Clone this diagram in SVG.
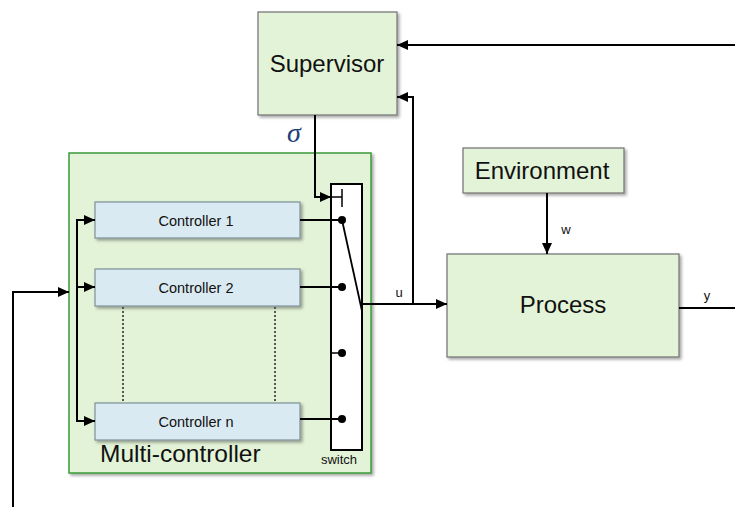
<svg xmlns="http://www.w3.org/2000/svg" width="735" height="507" viewBox="0 0 735 507">
<defs>
<filter id="sh" x="-10%" y="-10%" width="130%" height="130%">
<feDropShadow dx="2" dy="2" stdDeviation="1.5" flood-color="#000" flood-opacity="0.35"/>
</filter>
<marker id="ah" markerWidth="12" markerHeight="10" refX="11" refY="5" orient="auto" markerUnits="userSpaceOnUse">
<path d="M0,0 L11,5 L0,10 z" fill="#000"/>
</marker>
</defs>
<style>
.blk{fill:#e3f3d7;stroke:#707070;stroke-width:1.2}
.ctl{fill:#daeaf3;stroke:#7d8f98;stroke-width:1.2}
.mc{fill:#e3f3d7;stroke:#3a9a3a;stroke-width:1.5}
.ln{fill:none;stroke:#000;stroke-width:2}
.dot{fill:#000}
.t{font-family:"Liberation Sans",Arial,sans-serif;fill:#111}
.dotted{stroke:#555;stroke-width:2;stroke-dasharray:2 2}
</style>

<g id="multi-controller">
<rect class="mc" x="69" y="153" width="302" height="320" filter="url(#sh)"/>
<text class="t" x="100" y="462" font-size="24.5">Multi-controller</text>
</g>

<g id="supervisor">
<rect class="blk" x="258" y="12" width="139" height="103" filter="url(#sh)"/>
<text class="t" x="327" y="72" font-size="24" text-anchor="middle">Supervisor</text>
</g>

<g id="environment">
<rect class="blk" x="463" y="148" width="161" height="45" filter="url(#sh)"/>
<text class="t" x="542" y="179" font-size="24" text-anchor="middle">Environment</text>
</g>

<g id="process">
<rect class="blk" x="447" y="254" width="232" height="103" filter="url(#sh)"/>
<text class="t" x="563" y="313" font-size="24" text-anchor="middle">Process</text>
</g>

<g id="controller1">
<rect class="ctl" x="95" y="202" width="205" height="36" filter="url(#sh)"/>
<text class="t" x="196" y="226" font-size="14.5" text-anchor="middle">Controller 1</text>
</g>
<g id="controller2">
<rect class="ctl" x="95" y="269" width="205" height="37" filter="url(#sh)"/>
<text class="t" x="196" y="293" font-size="14.5" text-anchor="middle">Controller 2</text>
</g>
<g id="controllern">
<rect class="ctl" x="95" y="403" width="205" height="37" filter="url(#sh)"/>
<text class="t" x="196" y="427" font-size="14.5" text-anchor="middle">Controller n</text>
</g>

<g id="switch">
<rect x="331" y="184" width="31" height="266" fill="#fff" stroke="#000" stroke-width="2"/>
<line x1="342" y1="189" x2="342" y2="207" stroke="#000" stroke-width="1.5"/>
<line x1="331" y1="197" x2="342" y2="197" stroke="#000" stroke-width="1.5"/>
<circle class="dot" cx="342" cy="220" r="4"/>
<circle class="dot" cx="342" cy="287" r="4"/>
<circle class="dot" cx="342" cy="353" r="4"/>
<circle class="dot" cx="342" cy="419" r="4"/>
<line x1="331" y1="353" x2="342" y2="353" stroke="#000" stroke-width="1.5"/>
<line x1="342" y1="220" x2="362" y2="311" stroke="#000" stroke-width="1.8"/>
<text class="t" x="339" y="464" font-size="13" text-anchor="middle">switch</text>
</g>

<g id="connectors">
<line class="dotted" x1="123" y1="307" x2="123" y2="402"/>
<line class="dotted" x1="275" y1="307" x2="275" y2="402"/>
<polyline class="ln" points="13,507 13,292 69,292" marker-end="url(#ah)"/>
<line class="ln" x1="77" y1="219" x2="77" y2="422"/>
<line class="ln" x1="77" y1="220" x2="95" y2="220" marker-end="url(#ah)"/>
<line class="ln" x1="77" y1="287" x2="95" y2="287" marker-end="url(#ah)"/>
<line class="ln" x1="76" y1="421" x2="95" y2="421" marker-end="url(#ah)"/>
<line class="ln" x1="300" y1="220" x2="342" y2="220"/>
<line class="ln" x1="300" y1="287" x2="342" y2="287"/>
<line class="ln" x1="300" y1="419" x2="342" y2="419"/>
<polyline class="ln" points="315,115 315,197 331,197" marker-end="url(#ah)"/>
<line class="ln" x1="362" y1="304" x2="447" y2="304" marker-end="url(#ah)"/>
<polyline class="ln" points="413,304 413,97 397,97" marker-end="url(#ah)"/>
<line class="ln" x1="735" y1="45" x2="397" y2="45" marker-end="url(#ah)"/>
<line class="ln" x1="547" y1="193" x2="547" y2="254" marker-end="url(#ah)"/>
<line class="ln" x1="679" y1="308" x2="735" y2="308"/>
<text class="t" x="399" y="297" font-size="13" text-anchor="middle">u</text>
<text class="t" x="566" y="234" font-size="13" text-anchor="middle">w</text>
<text class="t" x="707" y="300" font-size="13" text-anchor="middle">y</text>
<text x="294" y="142" font-size="28" font-style="italic" font-family="'Liberation Serif','DejaVu Serif',serif" fill="#22407a" text-anchor="middle">σ</text>
</g>
</svg>
